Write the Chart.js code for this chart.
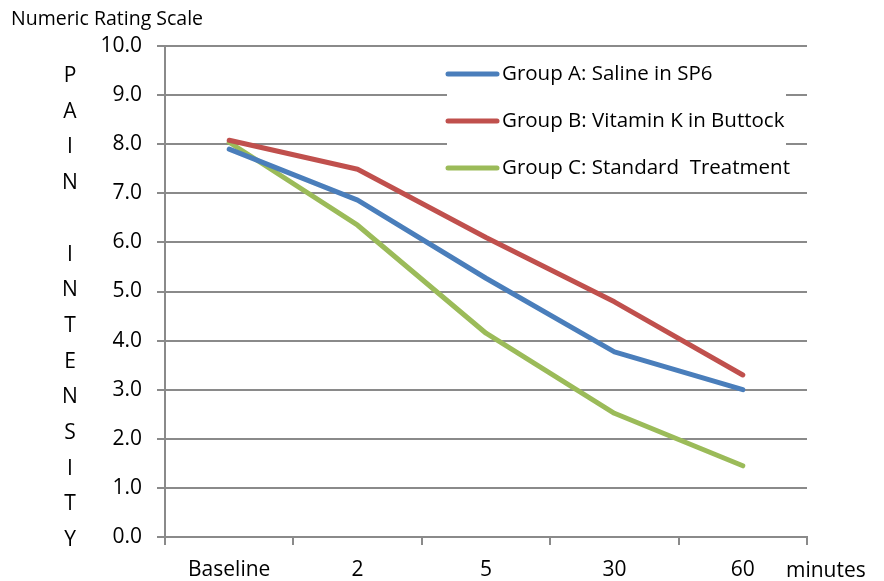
<!DOCTYPE html>
<html>
<head>
<meta charset="utf-8">
<script src="https://cdn.jsdelivr.net/npm/chart.js@4"></script>
<style>
  body { margin: 0; background: #fff; }
  #wrap { position: relative; width: 884px; height: 581px; font-family: "Open Sans", sans-serif; color: #000; }
  #chart { position: absolute; left: 0; top: 0; }
  .lbl { position: absolute; white-space: pre; }
  #ytitle { left: 58px; top: 57px; width: 24px; text-align: center; line-height: 35.7px; font-size: 21px; }
</style>
</head>
<body>
<div id="wrap">
  <canvas id="chart" width="884" height="581"></canvas>
  <div class="lbl" style="left:11px; top:4px; font-size:19.5px;">Numeric Rating Scale</div>
  <div class="lbl" id="ytitle">P
A
I
N

I
N
T
E
N
S
I
T
Y</div>
  <div class="lbl" style="left:786px; top:555px; font-size:21px;">minutes</div>
</div>
<script>
// Pain score over time by group
const timepoints = ['Baseline', '2', '5', '30', '60'];
const groupNames = ['Group A: Saline in SP6', 'Group B: Vitamin K in Buttock', 'Group C: Standard  Treatment'];
const groupA = [7.9, 6.86, 5.27, 3.77, 3.0];
const groupB = [8.08, 7.49, 6.1, 4.79, 3.3];
const groupC = [8.04, 6.35, 4.15, 2.52, 1.45];

const colors = ['#4a7ebb', '#c0504d', '#9bbb59'];
const series = [groupA, groupB, groupC];

const datasets = [];
for (let i = 0; i < series.length; i++) {
  datasets.push({
    label: groupNames[i],
    data: series[i],
    borderColor: colors[i],
    backgroundColor: colors[i],
    borderWidth: 5,
    pointRadius: 0,
    tension: 0,
    borderCapStyle: 'round',
    borderJoinStyle: 'round'
  });
}

// legend drawn inside the plot, over the gridlines
const insideLegend = {
  id: 'insideLegend',
  afterDraw(chart) {
    const c = chart.ctx;
    c.save();
    c.fillStyle = '#fff';
    c.fillRect(447, 55, 339, 130);
    c.font = '20.5px "Open Sans"';
    c.textBaseline = 'middle';
    const ys = [74, 121, 168];
    chart.data.datasets.forEach((ds, i) => {
      c.strokeStyle = ds.borderColor;
      c.lineWidth = 5;
      c.lineCap = 'round';
      c.beginPath();
      c.moveTo(448, ys[i]);
      c.lineTo(497, ys[i]);
      c.stroke();
      c.fillStyle = '#000';
      c.fillText(ds.label, 502, ys[i]);
    });
    c.restore();
  }
};

new Chart(document.getElementById('chart').getContext('2d'), {
  type: 'line',
  data: { labels: timepoints, datasets: datasets },
  options: {
    responsive: false,
    animation: false,
    layout: { padding: { top: 46, right: 77, bottom: 0, left: 0 } },
    plugins: {
      legend: { display: false },
      tooltip: { enabled: false }
    },
    scales: {
      x: {
        offset: true,
        afterFit: s => { s.height = 44; },
        grid: { offset: true, drawOnChartArea: false, drawTicks: true, tickLength: 8, color: '#8a8a8a', lineWidth: 2 },
        border: { color: '#8a8a8a', width: 2 },
        ticks: { color: '#000', padding: 12, font: { family: 'Open Sans', size: 21 }, maxRotation: 0 }
      },
      y: {
        min: 0,
        max: 10,
        afterFit: s => { s.width = 165; },
        grid: { color: '#8a8a8a', lineWidth: 2, tickLength: 8 },
        border: { color: '#8a8a8a', width: 2 },
        ticks: {
          stepSize: 1,
          color: '#000',
          padding: 15,
          font: { family: 'Open Sans', size: 21 },
          callback: v => v.toFixed(1)
        }
      }
    }
  },
  plugins: [insideLegend]
});
</script>
</body>
</html>
